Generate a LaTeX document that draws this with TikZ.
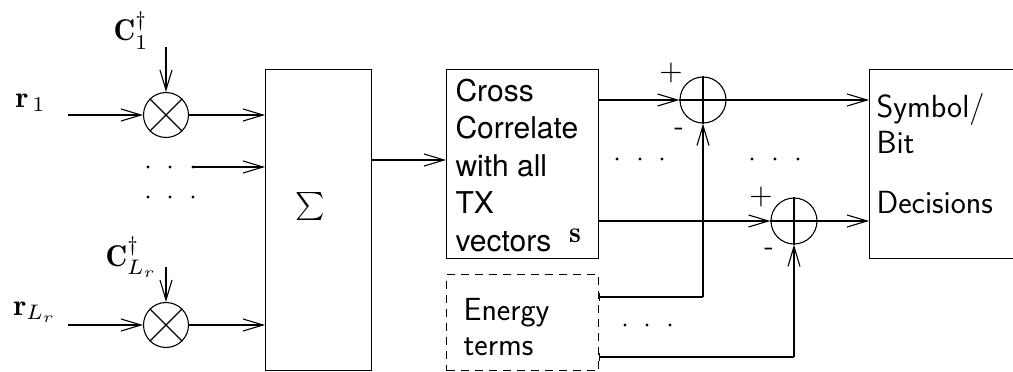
\documentclass[tikz,border=0pt]{standalone}
\usepackage{fontspec}
\newfontfamily\helv{TeX Gyre Heros}
\usetikzlibrary{arrows.meta}
\newcommand{\mymath}[2][3.0]{\scalebox{#1}{$#2$}}
\begin{document}
\begin{tikzpicture}[x=1pt,y=-1pt, line width=1.1pt,
  >={Straight Barb[length=20pt,width=12pt]},
  box/.style={draw, rectangle, inner sep=0pt, anchor=north west},
  mult/.style={draw, circle, minimum size=45pt, inner sep=0pt},
  lbl/.style={inner sep=0pt},
  helvtxt/.style={inner sep=0pt, align=left, anchor=north west, font=\helv\fontsize{30}{37.5}\selectfont},
  sanstxt/.style={inner sep=0pt, align=left, anchor=north west, font=\sffamily\fontsize{32}{35}\selectfont},
  sgn/.style={inner sep=0pt},
  edash/.style={draw, dash pattern=on 8pt off 6pt},
  ddot/.style={fill=black},
]
\useasboundingbox (0,0) rectangle (1013,372);
\clip (0,0) rectangle (1013,372);

% labels
\node[lbl, anchor=base west] (r1) at (15,107) {\mymath{\mathbf{r}_{\,1}}};
\node[lbl, anchor=base west] (rL) at (13,315) {\mymath{\mathbf{r}_{L_r}}};
\node[lbl, anchor=base west] (c1) at (113,41) {\mymath{\mathbf{C}_1^{\dagger}}};
\node[lbl, anchor=base west] (cL) at (105,266) {\mymath{\mathbf{C}_{L_r}^{\dagger}}};

% multipliers
\node[mult] (m1) at (166,115) {};
\draw (m1.north west) -- (m1.south east) (m1.north east) -- (m1.south west);
\node[mult] (m2) at (166,325) {};
\draw (m2.north west) -- (m2.south east) (m2.north east) -- (m2.south west);

% boxes
\node[box, minimum width=106pt, minimum height=301pt] (sum) at (265,69) {};
\node[lbl] (sig) at (310,206) {\mymath[2.8]{\textstyle\sum}};
\node[box, minimum width=152pt, minimum height=189pt] (cc) at (446,69) {};
\node[helvtxt] (cct) at (455,78.5) {Cross\\Correlate\\with all\\TX\\vectors};
\node[lbl] (s) at (575,236) {\mymath{\mathbf{s}}};
\node[box, edash, minimum width=152pt, minimum height=96pt] (en) at (446,274) {};
\node[sanstxt] (ent) at (463,298) {Energy\\terms};
\node[box, minimum width=170pt, minimum height=189pt] (dec) at (869,69) {};
\node[sanstxt, font=\sffamily\fontsize{32}{36}\selectfont] (dect) at (876,93) {Symbol/\\Bit\\[24pt]Decisions};

% adders
\node[mult, minimum size=46pt] (a1) at (703,100) {};
\draw (a1.north) -- (a1.south) (a1.west) -- (a1.east);
\node[mult, minimum size=46pt] (a2) at (794,221) {};
\draw (a2.north) -- (a2.south) (a2.west) -- (a2.east);
\node[sgn] (p1) at (671,73) {\mymath{+}};
\node[sgn, font=\sffamily\fontsize{30}{34}\selectfont] (n1) at (679,132) {-};
\node[sgn] (p2) at (761,197) {\mymath{+}};
\node[sgn, font=\sffamily\fontsize{30}{34}\selectfont] (n2) at (769,252) {-};

% coordinates
\coordinate (i1) at (68,115);
\coordinate (i2) at (68,325);
\coordinate (cs1) at (166,47);
\coordinate (cs2) at (166,267);
\coordinate (dr) at (193,167);
\coordinate (e1) at (703,297);
\coordinate (e2) at (794,357);

% connectors
\draw[->] (i1) -- (m1.west);
\draw[->] (cs1) -- (m1.north);
\draw[->] (m1.east) -- (sum.west |- m1.east);
\draw[->] (dr) -- (sum.west |- dr);
\draw[->] (i2) -- (m2.west);
\draw[->] (cs2) -- (m2.north);
\draw[->] (m2.east) -- (sum.west |- m2.east);
\draw[->] (sum.east |- 0,160) -- (cc.west |- 0,160);
\draw[->] (cc.east |- a1.west) -- (a1.west);
\draw[->] (cc.east |- a2.west) -- (a2.west);
\draw[{Bar[width=8pt]}-] (en.east |- e1) -- (e1);
\draw[->] (e1) -- (a1.south);
\draw[{Bar[width=8pt]}-] (en.east |- e2) -- (e2);
\draw[->] (e2) -- (a2.south);
\draw[->] (a1.east) -- (dec.west |- a1.east);
\draw[->] (a2.east) -- (dec.west |- a2.east);

% dots
\foreach \x in {148,170,193} {
  \fill[ddot] (\x,167) circle (1.6pt);
  \fill[ddot] (\x,197) circle (1.6pt);
}
\foreach \x in {617,640,662,752,775,798} \fill[ddot] (\x,159) circle (1.6pt);
\foreach \x in {625,647,670} \fill[ddot] (\x,325) circle (1.6pt);
\end{tikzpicture}
\end{document}
